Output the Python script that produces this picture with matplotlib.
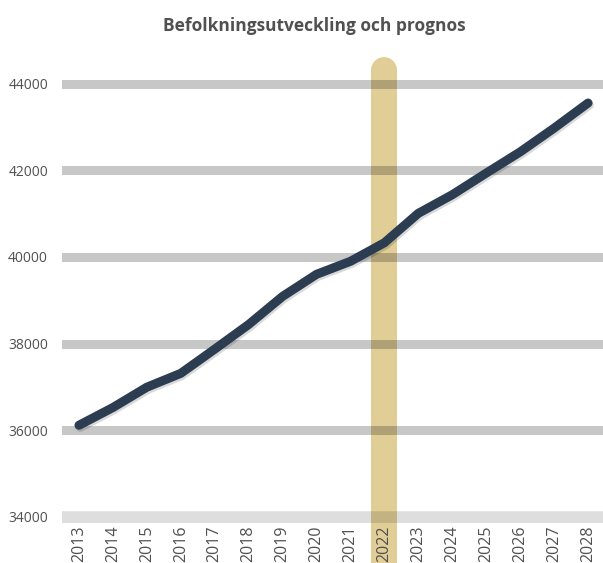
import matplotlib
matplotlib.use("Agg")
import matplotlib.pyplot as plt
import matplotlib.patheffects as pe

years = list(range(2013, 2029))
population = [36110, 36520, 36990, 37310, 37870, 38440, 39090, 39600,
              39900, 40330, 41010, 41440, 41940, 42430, 42980, 43560]
highlight_year = 2022
y_ticks = [34000, 36000, 38000, 40000, 42000, 44000]
title = "Befolkningsutveckling och prognos"

W, H = 603, 563
fig = plt.figure(figsize=(W / 100, H / 100), dpi=100)
left, right = 62 / W, 1.0
bottom, top = 1 - 523 / H, 1 - 57 / H
ax = fig.add_axes([left, bottom, right - left, top - bottom])

ax.set_xlim(2012.5, 2028.44)
ax.set_ylim(33850, 44624)

# highlight bar (rounded top), extends below axes
ax.plot([highlight_year, highlight_year], [32000, 44320], color="#e1ce96",
        linewidth=18.7, solid_capstyle="round", zorder=1, clip_on=False)

# grid bands
for v in y_ticks:
    if v == y_ticks[0]:
        ax.axhline(v, color="black", alpha=0.13, linewidth=9, zorder=2)
    else:
        ax.axhline(v, color="black", alpha=0.22, linewidth=6.5, zorder=2)

ax.plot(years, population, color="#2c3d52", linewidth=6.5,
        solid_capstyle="round", solid_joinstyle="round", zorder=3,
        path_effects=[pe.SimpleLineShadow(offset=(1, -1.5), alpha=0.15),
                      pe.Normal()])

for s in ax.spines.values():
    s.set_visible(False)

ax.set_yticks(y_ticks)
ax.set_yticklabels([str(v) for v in y_ticks], fontsize=10,
                   color="#505050", family="Open Sans")
ax.set_xticks(years)
ax.set_xticklabels([str(y) for y in years], rotation=90, fontsize=11.5,
                   color="#505050", family="Open Sans")
ax.tick_params(axis="y", length=0, pad=10)
ax.tick_params(axis="x", length=0, pad=2)

fig.text(0.522, 1 - 26 / H, title, ha="center", va="center",
         fontsize=12.5, fontweight="bold", color="#505050",
         family="Open Sans")

fig.savefig("out.png", dpi=100)
